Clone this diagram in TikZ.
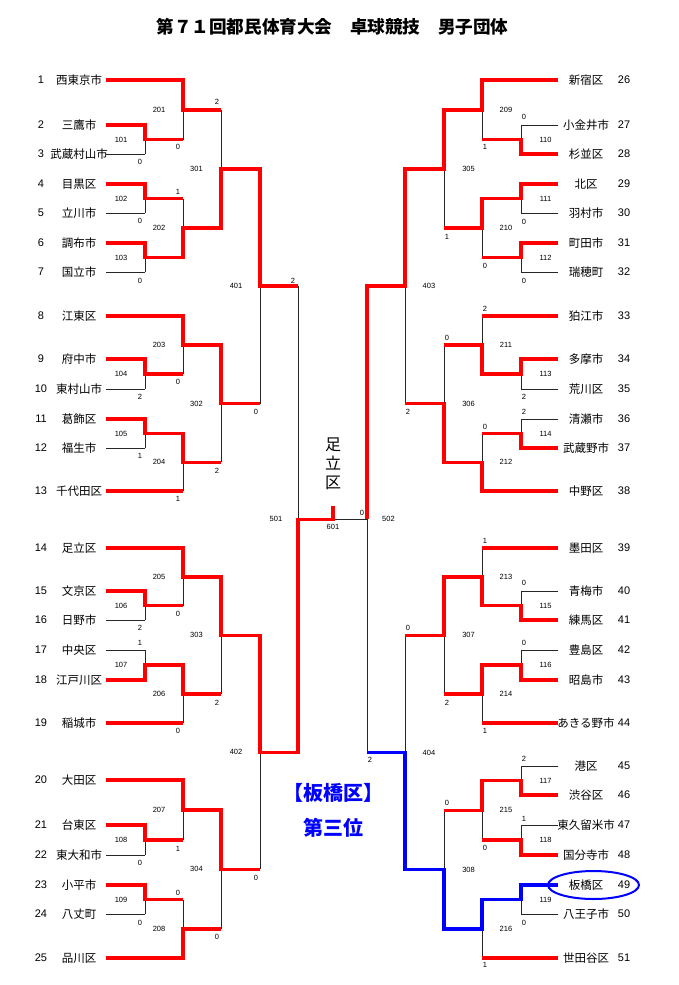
\documentclass[tikz,border=0pt]{standalone}
\usepackage{fontspec}
\setmainfont{Noto Sans CJK JP}
\newfontfamily\numfont{Liberation Sans}
\usetikzlibrary{shapes.geometric}

\tikzset{
  lose/.style={black!85, line width=0.9pt},
  win/.style={red, line width=3.5pt},
  third/.style={blue, line width=3.8pt},
  team/.style={font=\fontsize{11.5}{13}\selectfont, inner sep=0pt},
  seed/.style={font=\numfont\fontsize{11}{13}\selectfont, inner sep=0pt},
  score/.style={font=\numfont\fontsize{7.5}{9}\selectfont, inner sep=0pt},
}

% one match: vertical at x, from top to bottom, output to next x
\newcommand\game[5]{%
  \draw[lose] (#1,#2) -- (#1,#3) (#1,{(#2+#3)/2}) -- (#4,{(#2+#3)/2});
  \node[score] (m#5) at ({#1+(#1-#4)*0.63},{(#2+#3)/2}) {#5};}

\begin{document}
\begin{tikzpicture}[x=1pt, y=-1pt]
    \useasboundingbox (0,0) rectangle (679,985);

    % Title
    \node[font=\fontsize{17.6}{20}\bfseries\selectfont] (title) at (332.5,27) {第７１回都民体育大会　卓球競技　男子団体};

    % Left teams
    \foreach \n/\y/\name/\xe in {1/80/西東京市/183, 2/125/三鷹市/145, 3/154/武蔵村山市/145,
        4/184/目黒区/145, 5/213/立川市/145, 6/243/調布市/145, 7/272/国立市/145,
        8/316/江東区/183, 9/359/府中市/145, 10/389/東村山市/145, 11/419/葛飾区/145,
        12/448/福生市/145, 13/491/千代田区/183, 14/548/足立区/183, 15/591/文京区/145,
        16/620/日野市/145, 17/650/中央区/145, 18/680/江戸川区/145, 19/723/稲城市/183,
        20/780/大田区/183, 21/825/台東区/145, 22/855/東大和市/145, 23/885/小平市/145,
        24/914/八丈町/145, 25/958/品川区/183} {
      \node[seed] (n\n) at (41,\y) {\n};
      \node[team] (t\n) at (79,\y) {\name};
      \draw[lose] (106,\y) -- (\xe,\y);
    }

    % Right teams
    \foreach \n/\y/\name/\xe in {26/80/新宿区/482, 27/125/小金井市/521, 28/154/杉並区/521,
        29/184/北区/521, 30/213/羽村市/521, 31/243/町田市/521, 32/272/瑞穂町/521,
        33/316/狛江市/482, 34/359/多摩市/521, 35/389/荒川区/521, 36/419/清瀬市/521,
        37/448/武蔵野市/521, 38/491/中野区/482, 39/548/墨田区/482, 40/591/青梅市/521,
        41/620/練馬区/521, 42/650/豊島区/521, 43/680/昭島市/521, 44/723/あきる野市/482,
        45/766/港区/521, 46/795/渋谷区/521, 47/825/東久留米市/521, 48/855/国分寺市/521,
        49/885/板橋区/521, 50/914/八王子市/521, 51/958/世田谷区/482} {
      \node[seed] (n\n) at (624,\y) {\n};
      \node[team] (t\n) at (586,\y) {\name};
      \draw[lose] (558,\y) -- (\xe,\y);
    }

    % Left bracket
    \game{145}{125}{154}{183}{101}
    \game{145}{184}{213}{183}{102}
    \game{145}{243}{272}{183}{103}
    \game{145}{359}{389}{183}{104}
    \game{145}{419}{448}{183}{105}
    \game{145}{591}{620}{183}{106}
    \game{145}{650}{680}{183}{107}
    \game{145}{825}{855}{183}{108}
    \game{145}{885}{914}{183}{109}
    \game{183}{80}{139.5}{221}{201}
    \game{183}{198.5}{257.5}{221}{202}
    \game{183}{316}{374}{221}{203}
    \game{183}{433.5}{491}{221}{204}
    \game{183}{548}{605.5}{221}{205}
    \game{183}{665}{723}{221}{206}
    \game{183}{780}{840}{221}{207}
    \game{183}{899.5}{958}{221}{208}
    \game{221}{109.75}{228}{260}{301}
    \game{221}{345}{462.25}{260}{302}
    \game{221}{576.75}{694}{260}{303}
    \game{221}{810}{928.75}{260}{304}
    \game{260}{168.9}{403.6}{298}{401}
    \game{260}{635.4}{869.4}{298}{402}
    \game{298}{286.2}{752.4}{333}{501}

    % Right bracket
    \game{521}{125}{154}{482}{110}
    \game{521}{184}{213}{482}{111}
    \game{521}{243}{272}{482}{112}
    \game{521}{359}{389}{482}{113}
    \game{521}{419}{448}{482}{114}
    \game{521}{591}{620}{482}{115}
    \game{521}{650}{680}{482}{116}
    \game{521}{766}{795}{482}{117}
    \game{521}{825}{855}{482}{118}
    \game{521}{885}{914}{482}{119}
    \game{482}{80}{139.5}{444}{209}
    \game{482}{198.5}{257.5}{444}{210}
    \game{482}{316}{374}{444}{211}
    \game{482}{433.5}{491}{444}{212}
    \game{482}{548}{605.5}{444}{213}
    \game{482}{665}{723}{444}{214}
    \game{482}{780.5}{840}{444}{215}
    \game{482}{899.5}{958}{444}{216}
    \game{444}{109.75}{228}{405}{305}
    \game{444}{345}{462.25}{405}{306}
    \game{444}{576.75}{694}{405}{307}
    \game{444}{810.25}{928.75}{405}{308}
    \game{405}{168.9}{403.6}{367}{403}
    \game{405}{635.4}{869.5}{367}{404}
    \game{367}{286.2}{752.45}{333}{502}
    \node[score] (m601) at (333,527) {601};

    % Winners, left
    \draw[win] (106,80) -- (183,80) -- (183,109.75) -- (221,109.75);
    \draw[win] (106,125) -- (145,125) -- (145,139.5) -- (183,139.5);
    \draw[win] (106,184) -- (145,184) -- (145,198.5) -- (183,198.5);
    \draw[win] (106,243) -- (145,243) -- (145,257.5) -- (183,257.5) -- (183,228) -- (221,228)
      -- (221,168.9) -- (260,168.9) -- (260,286.2) -- (298,286.2);
    \draw[win] (106,316) -- (183,316) -- (183,345) -- (221,345) -- (221,403.6) -- (260,403.6);
    \draw[win] (106,359) -- (145,359) -- (145,374) -- (183,374);
    \draw[win] (106,419) -- (145,419) -- (145,433.5) -- (183,433.5) -- (183,462.25) -- (221,462.25);
    \draw[win] (106,491) -- (183,491);
    \draw[win] (106,548) -- (183,548) -- (183,576.75) -- (221,576.75) -- (221,635.4) -- (260,635.4)
      -- (260,752.4) -- (298,752.4) -- (298,519.3) -- (333,519.3) -- (333,506);
    \draw[win] (106,591) -- (145,591) -- (145,605.5) -- (183,605.5);
    \draw[win] (106,680) -- (145,680) -- (145,665) -- (183,665) -- (183,694) -- (221,694);
    \draw[win] (106,723) -- (183,723);
    \draw[win] (106,780) -- (183,780) -- (183,810) -- (221,810) -- (221,869.4) -- (260,869.4);
    \draw[win] (106,825) -- (145,825) -- (145,840) -- (183,840);
    \draw[win] (106,885) -- (145,885) -- (145,899.5) -- (183,899.5);
    \draw[win] (106,958) -- (183,958) -- (183,928.75) -- (221,928.75);

    % Winners, right
    \draw[win] (558,80) -- (482,80) -- (482,109.75) -- (444,109.75) -- (444,168.9) -- (405,168.9)
      -- (405,286.2) -- (367,286.2) -- (367,519.3);
    \draw[win] (558,154) -- (521,154) -- (521,139.5) -- (482,139.5);
    \draw[win] (558,184) -- (521,184) -- (521,198.5) -- (482,198.5) -- (482,228) -- (444,228);
    \draw[win] (558,243) -- (521,243) -- (521,257.5) -- (482,257.5);
    \draw[win] (558,316) -- (482,316);
    \draw[win] (558,359) -- (521,359) -- (521,374) -- (482,374) -- (482,345) -- (444,345);
    \draw[win] (558,448) -- (521,448) -- (521,433.5) -- (482,433.5);
    \draw[win] (558,491) -- (482,491) -- (482,462.25) -- (444,462.25) -- (444,403.6) -- (405,403.6);
    \draw[win] (558,548) -- (482,548);
    \draw[win] (558,620) -- (521,620) -- (521,605.5) -- (482,605.5) -- (482,576.75) -- (444,576.75)
      -- (444,635.4) -- (405,635.4);
    \draw[win] (558,680) -- (521,680) -- (521,665) -- (482,665) -- (482,694) -- (444,694);
    \draw[win] (558,723) -- (482,723);
    \draw[win] (558,795) -- (521,795) -- (521,780.5) -- (482,780.5) -- (482,810.25) -- (444,810.25);
    \draw[win] (558,855) -- (521,855) -- (521,840) -- (482,840);
    \draw[win] (558,958) -- (482,958);

    % Third place path
    \draw[third] (558,885) -- (521,885) -- (521,899.5) -- (482,899.5) -- (482,928.75) -- (444,928.75)
      -- (444,869.5) -- (405,869.5) -- (405,752.45) -- (367,752.45);
    \node[ellipse, draw=blue, line width=2pt, minimum width=91, minimum height=28] (ring) at (593.5,885) {};

    % Scores
    \foreach \s/\x/\y [count=\i] in {0/140/162, 0/178/147, 2/217/102, 1/178/192, 0/140/221,
        0/140/281, 2/293/281, 0/178/382, 2/140/397, 0/256/412, 1/140/456, 1/178/499,
        2/217/471, 0/178/614, 2/140/628, 2/217/703, 1/140/643, 0/178/731, 1/178/849,
        0/140/863, 0/217/937, 0/256/878, 0/140/923, 0/178/893,
        0/524/117, 1/485/147, 0/524/222, 0/524/281, 0/485/266, 1/447/237, 2/408/412,
        2/485/309, 0/447/338, 2/524/397, 2/524/412, 0/485/427, 0/362/513, 1/485/541,
        0/524/583, 0/408/628, 0/524/643, 2/447/703, 1/485/731, 2/370/760, 2/524/759,
        0/447/803, 1/524/819, 0/485/848, 0/524/923, 1/485/965}
      \node[score] (s\i) at (\x,\y) {\s};

    % Champion and third place
    \node[font=\fontsize{16}{19}\selectfont, align=center] (champ) at (333,464) {足\\立\\区};
    \node[font=\fontsize{20}{24}\bfseries\selectfont, text=blue] (res1) at (333,793) {【板橋区】};
    \node[font=\fontsize{20}{24}\bfseries\selectfont, text=blue] (res2) at (333,828) {第三位};
\end{tikzpicture}
\end{document}
